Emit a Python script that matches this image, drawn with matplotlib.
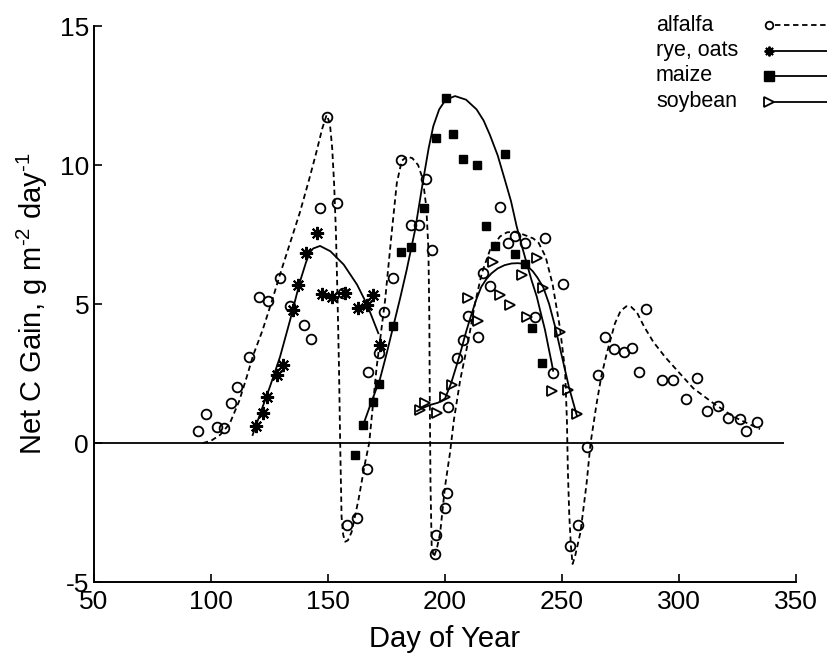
import matplotlib
matplotlib.use("Agg")
import matplotlib.pyplot as plt

plt.rcParams["font.family"] = "Liberation Sans"
plt.rcParams["mathtext.fontset"] = "custom"
plt.rcParams["mathtext.rm"] = "Liberation Sans"
plt.rcParams["mathtext.default"] = "regular"
plt.rcParams["axes.unicode_minus"] = False

# =========================
# Observed points (day of year, net C gain)
# =========================
alfalfa_day = [94.6, 97.7, 102.4, 105.7, 108.4, 111.2, 116.2, 120.4, 124.5, 129.5,
               133.8, 139.7, 142.6, 146.6, 149.4, 153.7, 156.5, 158.0, 162.2, 166.8,
               167.2, 171.9, 173.9, 177.9, 181.0, 185.3, 188.9, 191.8, 194.3, 195.7,
               196.2, 200.0, 200.7, 201.4, 205.0, 207.9, 210.0, 214.2, 216.4, 219.2,
               223.5, 227.0, 229.9, 234.2, 242.7, 238.5, 246.0, 250.3, 253.4, 257.0,
               260.7, 265.5, 268.4, 272.2, 276.6, 279.7, 282.9, 285.9, 292.6, 297.3,
               303.0, 307.5, 311.8, 316.8, 321.1, 326.1, 328.6, 333.5]
alfalfa_gain = [0.44, 1.04, 0.59, 0.55, 1.45, 2.03, 3.1, 5.24, 5.12, 5.95,
                4.93, 4.23, 3.73, 8.44, 11.72, 8.62, 5.41, -2.95, -2.71, -0.94,
                2.57, 3.23, 4.72, 5.92, 10.18, 7.83, 7.85, 9.5, 6.94, -3.99,
                -3.31, -2.35, -1.81, 1.31, 3.05, 3.7, 4.57, 3.82, 6.1, 5.65,
                8.5, 7.2, 7.45, 7.18, 7.36, 4.52, 2.53, 5.72, -3.72, -2.94,
                -0.13, 2.45, 3.82, 3.4, 3.28, 3.43, 2.56, 4.82, 2.27, 2.27,
                1.57, 2.33, 1.15, 1.33, 0.89, 0.85, 0.44, 0.74]

rye_day = [119.2, 122.4, 124.1, 128.1, 130.9, 134.9, 137.3, 140.6, 145.2, 147.3,
           151.6, 157.3, 162.9, 166.5, 169.4, 172.2]
rye_gain = [0.62, 1.07, 1.67, 2.45, 2.8, 4.78, 5.68, 6.85, 7.56, 5.35,
            5.24, 5.38, 4.85, 4.96, 5.32, 3.52]

maize_day = [161.5, 164.8, 169.4, 171.9, 177.9, 181.0, 185.6, 191.0, 196.0, 200.3,
             203.5, 207.5, 213.5, 217.5, 221.4, 225.6, 230.0, 234.2, 237.0, 241.3]
maize_gain = [-0.43, 0.65, 1.49, 2.12, 4.21, 6.88, 7.05, 8.46, 10.97, 12.4,
              11.1, 10.2, 10.0, 7.8, 7.1, 10.4, 6.8, 6.43, 4.13, 2.87]

soy_day = [189.3, 191.5, 196.7, 200.0, 202.9, 210.0, 214.2, 220.6, 223.5, 227.8,
           232.8, 234.9, 239.2, 242.0, 245.6, 249.1, 252.7, 256.3]
soy_gain = [1.19, 1.43, 1.07, 1.67, 2.09, 5.2, 4.4, 6.5, 5.32, 4.96,
            6.04, 4.52, 6.64, 5.56, 1.87, 4.0, 1.9, 1.04]

# =========================
# Fitted curves
# =========================
alfalfa_fit_day = [96.5, 100, 104, 108, 112, 115, 118, 122, 126, 130, 134, 138, 142, 145,
                   147.5, 149.4, 150.8, 151.8, 152.6, 153.4, 154.1, 154.7, 155.2, 155.8,
                   156.5, 157.3, 158.5, 160.1, 163, 165.8, 167.6, 170.8, 174.4, 177.2,
                   179.4, 181.5, 183.6, 186, 188.5, 190.5, 192, 192.9, 193.3, 193.5,
                   193.8, 194.3, 195.2, 196.5, 197.9, 200, 202.1, 203.8, 206.5, 210,
                   212.8, 215.7, 219.2, 223.5, 226.5, 229.5, 233.5, 237.7, 240, 243,
                   246, 249.1, 251.3, 252.1, 252.5, 253.1, 253.8, 254.5, 255.5, 257.9,
                   260.5, 262.2, 264.8, 266.8, 269.1, 272.6, 275, 277.5, 279.5, 282,
                   285, 289, 294, 299, 306.1, 314.7, 323.2, 334.6]
alfalfa_fit_gain = [0.0, 0.08, 0.3, 0.7, 1.5, 2.3, 3.15, 4.05, 5.1, 6.2, 7.25, 8.3, 9.5, 10.45,
                    11.3, 11.8, 11.5, 10.6, 9.35, 7.55, 5.1, 2.7, 0.0, -2.65,
                    -3.3, -3.55, -3.5, -3.2, -2.05, -0.73, 0.0, 2.74, 5.14, 7.55,
                    9.35, 10.15, 10.3, 10.25, 10.0, 9.5, 8.5, 7.0, 4.5, 1.5,
                    -1.5, -3.7, -4.1, -3.8, -3.25, -1.57, -0.37, 0.83, 2.27, 3.7,
                    5.02, 6.1, 6.94, 7.43, 7.58, 7.6, 7.5, 7.36, 7.2, 6.7,
                    5.7, 4.15, 2.63, 0.8, -1.0, -2.6, -3.7, -4.35, -4.1, -3.2,
                    -1.45, 0.0, 1.43, 2.4, 3.22, 4.3, 4.75, 4.92, 4.9, 4.7,
                    4.2, 3.64, 3.1, 2.63, 1.97, 1.43, 0.95, 0.5]

rye_fit_day = [117.8, 121.6, 125.2, 129.5, 133.8, 138, 140.6, 142.2, 143.7, 146.6,
               151, 156.7, 162.4, 166.7, 171.5]
rye_fit_gain = [0.29, 1.19, 2.03, 3.1, 4.42, 5.8, 6.5, 6.85, 7.0, 7.09,
                6.9, 6.42, 5.7, 4.98, 3.95]

maize_fit_day = [164.4, 168, 172.2, 175, 177.9, 180.8, 183.6, 187.2, 190.7, 193, 195,
                 197.5, 200.3, 204.3, 209, 213.5, 216.5, 219.2, 222.5, 225.6, 228.2,
                 230.6, 232.8, 234.9, 237, 239.2, 241, 242.7, 244.2, 245.6, 246.2]
maize_fit_gain = [0.5, 1.35, 2.3, 3.2, 4.2, 5.2, 6.22, 7.66, 9.47, 10.6, 11.4,
                  12.0, 12.35, 12.48, 12.35, 12.0, 11.6, 11.08, 10.35, 9.46, 8.7,
                  7.8, 7.1, 6.47, 5.85, 5.27, 4.65, 4.08, 3.45, 2.87, 2.6]

soy_fit_day = [188, 191, 194, 197, 200, 202.6, 204.8, 206.9, 209, 211.2, 213.3, 215.5,
               217.7, 219.8, 222.5, 225.5, 228.5, 231.2, 233.4, 235.5, 237.5, 239.5,
               242, 244.5, 247, 250, 253, 256.3]
soy_fit_gain = [1.15, 1.28, 1.38, 1.45, 1.6, 2.15, 2.75, 3.35, 4.0, 4.6, 5.15, 5.62,
                5.9, 6.1, 6.28, 6.4, 6.46, 6.47, 6.45, 6.34, 6.18, 5.95,
                5.6, 5.0, 4.2, 3.1, 2.0, 1.0]

legend_labels = ["alfalfa", "rye, oats", "maize", "soybean"]

# =========================
# Plot
# =========================
fig = plt.figure(figsize=(8.28, 6.54), dpi=100)
ax = fig.add_axes([0.1135, 0.110, 0.8479, 0.8502])

dash = (0, (3, 2))
ax.hlines(0, 50, 345, color="black", linewidth=1.3)

ax.plot(alfalfa_fit_day, alfalfa_fit_gain, color="black", linewidth=1.3, linestyle=dash)
ax.plot(rye_fit_day, rye_fit_gain, color="black", linewidth=1.3)
ax.plot(maize_fit_day, maize_fit_gain, color="black", linewidth=1.3)
ax.plot(soy_fit_day, soy_fit_gain, color="black", linewidth=1.3)

ax.plot(alfalfa_day, alfalfa_gain, "o", mfc="none", mec="black", ms=7, mew=1.3)
ax.plot(rye_day, rye_gain, marker=(8, 2, 0), linestyle="none", color="black", ms=9.5, mew=1.5)
ax.plot(maize_day, maize_gain, "s", color="black", ms=5.5)
ax.plot(soy_day, soy_gain, ">", mfc="none", mec="black", ms=7, mew=1.3)

ax.set_xlim(50, 350)
ax.set_ylim(-5, 15)
ax.set_xticks([50, 100, 150, 200, 250, 300, 350])
ax.set_yticks([-5, 0, 5, 10, 15])
ax.spines["top"].set_visible(False)
ax.spines["right"].set_visible(False)
ax.spines["left"].set_linewidth(1.4)
ax.spines["bottom"].set_linewidth(1.4)
ax.tick_params(direction="in", length=6, width=1.2, labelsize=19)
ax.tick_params(axis="x", pad=5.5)
ax.tick_params(axis="y", pad=3.5)

ax.set_xlabel("Day of Year", fontsize=21)
ax.set_ylabel(r"Net C Gain, g m$^{\text{-}2}$ day$^{\text{-}1}$", fontsize=21)
ax.xaxis.set_label_coords(0.5, -0.078)
ax.yaxis.set_label_coords(-0.063, 0.5)

# =========================
# Legend (text left, marker + line right)
# =========================
lax = fig.add_axes([0, 0, 1, 1])
lax.set_xlim(0, 828)
lax.set_ylim(654, 0)
lax.axis("off")

row_y = [25, 50.5, 75.5, 101.5]
styles = [
    dict(marker="o", mfc="none", mec="black", ms=5.5, mew=1.3, ls=dash),
    dict(marker=(8, 2, 0), color="black", ms=7, mew=1.4, ls="-"),
    dict(marker="s", color="black", ms=6.5, ls="-"),
    dict(marker=">", mfc="none", mec="black", ms=7, mew=1.3, ls="-"),
]
for label, y, st in zip(legend_labels, row_y, styles):
    lax.text(656, y + 5.7, label, fontsize=15.5, ha="left", va="baseline")
    ls = st.pop("ls")
    lax.plot([775, 830], [y, y], color="black", linewidth=1.3, linestyle=ls, clip_on=False)
    lax.plot([769], [y], linestyle="none", clip_on=False, **st)

fig.savefig("out.png", dpi=100)
